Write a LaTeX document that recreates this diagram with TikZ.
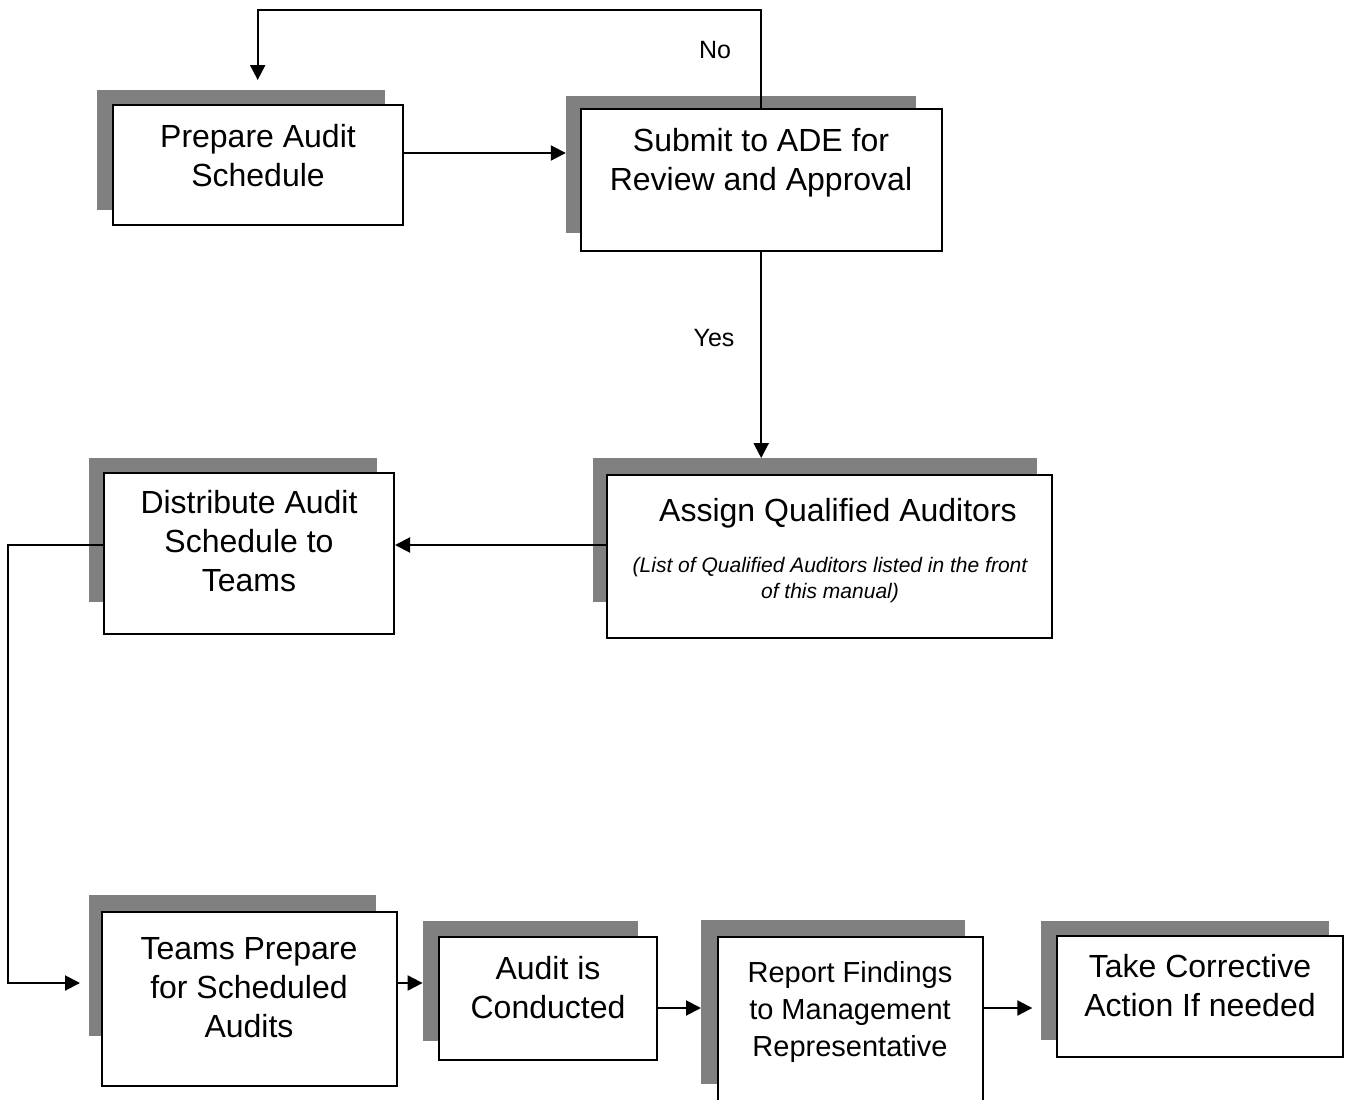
\documentclass[tikz,border=0pt]{standalone}
\usepackage{fontspec}
\setmainfont{Liberation Sans}
\usetikzlibrary{arrows.meta,fit}
\definecolor{shadowgray}{HTML}{808080}
\begin{document}
\begin{tikzpicture}[x=1pt,y=-1pt,
  shadowbox/.style={fill=shadowgray, draw=none, inner sep=0pt},
  box/.style={draw=black, line width=2pt, fill=white, inner sep=0pt},
  lbl/.style={align=center, font=\fontsize{32}{39}\selectfont, inner sep=0pt, anchor=north},
  note/.style={align=center, font=\fontsize{21}{26}\selectfont\itshape, inner sep=0pt, anchor=north},
  tag/.style={font=\fontsize{25}{30}\selectfont, inner sep=0pt},
  conn/.style={draw=black, line width=2pt, -{Triangle[length=15pt,width=15pt]}}]

\useasboundingbox (0,0) rectangle (1345,1100);
\clip (0,0) rectangle (1345,1100);

% offset grey backing plates
\node[shadowbox, fit={(96.7,90) (385,210)}] (prep-s) {};
\node[shadowbox, fit={(566,96) (915.7,233)}] (sub-s) {};
\node[shadowbox, fit={(593.3,458.3) (1036.7,601.7)}] (asg-s) {};
\node[shadowbox, fit={(89.3,458.3) (376.7,601.7)}] (dist-s) {};
\node[shadowbox, fit={(88.9,895) (376.4,1036)}] (teams-s) {};
\node[shadowbox, fit={(422.8,920.7) (638.3,1040.7)}] (aud-s) {};
\node[shadowbox, fit={(701.2,920) (965,1084)}] (rep-s) {};
\node[shadowbox, fit={(1040.5,920.7) (1328.9,1040)}] (take-s) {};

% process boxes
\node[box, fit={(112.7,105) (402.7,225)}] (prep) {};
\node[box, fit={(580.7,109.3) (941.7,250.7)}] (sub) {};
\node[box, fit={(606.7,475) (1051.7,638.3)}] (asg) {};
\node[box, fit={(104,472.7) (394,634.3)}] (dist) {};
\node[box, fit={(102,911.7) (396.8,1086)}] (teams) {};
\node[box, fit={(438.9,936.7) (657,1059.5)}] (aud) {};
\node[box, fit={(718.2,937.3) (983.2,1125)}] (rep) {};
\node[box, fit={(1056.6,936) (1343.3,1056.7)}] (take) {};

% box texts
\node[lbl] (prep-t) at (258,124) {Prepare Audit\\Schedule};
\node[lbl] (sub-t) at (761,128) {Submit to ADE for\\Review and Approval};
\node[lbl] (asg-t) at (838,498) {Assign Qualified Auditors};
\node[note] (asg-n) at (830,557) {(List of Qualified Auditors listed in the front\\of this manual)};
\node[lbl] (dist-t) at (249,490) {Distribute Audit\\Schedule to\\Teams};
\node[lbl] (teams-t) at (249,937) {Teams Prepare\\for Scheduled\\Audits};
\node[lbl] (aud-t) at (548,956) {Audit is\\Conducted};
\node[lbl, font=\fontsize{29}{37}\selectfont] (rep-t) at (850,961) {Report Findings\\to Management\\Representative};
\node[lbl] (take-t) at (1200,954) {Take Corrective\\Action If needed};

% decision labels
\node[tag] (no) at (715,50) {No};
\node[tag] (yes) at (714,338) {Yes};

% connectors
\coordinate (back) at (prep.north |- 0,80);
\coordinate (entry) at (80,983);
\draw[conn] (prep.east |- 0,153) -- (sub-s.west |- 0,153);
\draw[conn] (sub.north) -- (sub.north |- 0,10) -- (prep.north |- 0,10) -- (back);
\draw[conn] (sub.south) -- (sub.south |- asg-s.north);
\draw[conn] (asg.west |- 0,545) -- (dist.east |- 0,545);
\draw[conn] (dist.west |- 0,545) -| (8,983) -- (entry);
\draw[conn] (teams.east |- 0,983) -- (aud-s.west |- 0,983);
\draw[conn] (aud.east |- 0,1008) -- (rep-s.west |- 0,1008);
\draw[conn, shorten >=8pt] (rep.east |- 0,1008) -- (take-s.west |- 0,1008);
\end{tikzpicture}
\end{document}
